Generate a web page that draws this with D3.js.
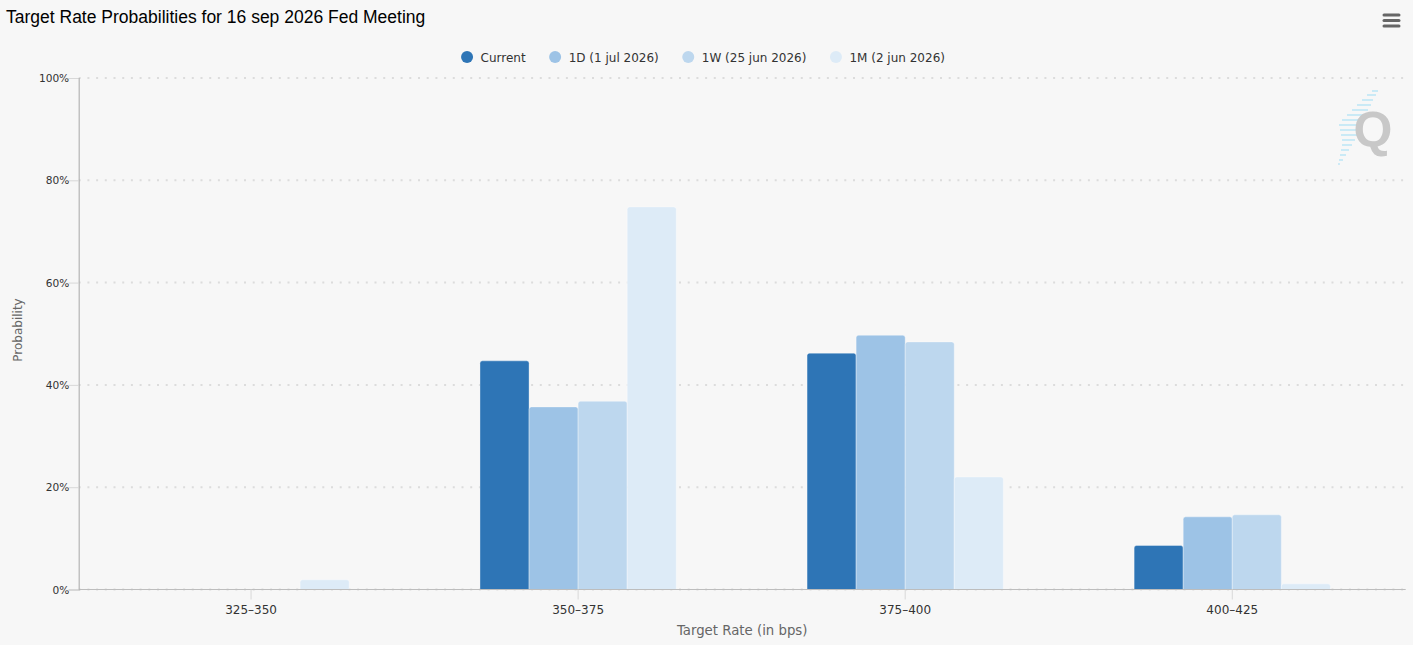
<!DOCTYPE html>
<html>
<head>
<meta charset="utf-8">
<script src="https://cdn.jsdelivr.net/npm/d3@7/dist/d3.min.js"></script>
<style>
  html, body { margin: 0; padding: 0; background: #f7f7f7; }
  svg { display: block; }
</style>
</head>
<body>
<svg id="chart" width="1413" height="645"></svg>
<script>
// ---- data ----
const categories = ["325\u2013350", "350\u2013375", "375\u2013400", "400\u2013425"];
const seriesNames = ["Current", "1D (1 jul 2026)", "1W (25 jun 2026)", "1M (2 jun 2026)"];
const seriesColors = ["#2e75b6", "#9dc3e6", "#bdd7ee", "#ddebf7"];
const currentValues = [0, 44.7, 46.2, 8.6];
const oneDayValues = [0, 35.7, 49.7, 14.2];
const oneWeekValues = [0, 36.8, 48.4, 14.6];
const oneMonthValues = [1.9, 74.8, 22.0, 1.1];
const yTicks = [0, 20, 40, 60, 80, 100];
const titleText = "Target Rate Probabilities for 16 sep 2026 Fed Meeting";
const xTitle = "Target Rate (in bps)";
const yTitle = "Probability";

const seriesValues = [currentValues, oneDayValues, oneWeekValues, oneMonthValues];

// ---- layout ----
const svg = d3.select("#chart");
const plot = { left: 78.7, right: 1405.7, top: 78, bottom: 589.5 };
const font = "'DejaVu Sans', Verdana, sans-serif";

const x0 = d3.scaleBand().domain(categories).range([87.5, 1395.8]).padding(0);
const x1 = d3.scaleBand().domain(seriesNames)
  .range([x0.bandwidth() * 0.2, x0.bandwidth() * 0.8]).padding(0);
const y = d3.scaleLinear().domain([0, 100]).range([plot.bottom, plot.top]);

// title
svg.append("text")
  .attr("x", 6).attr("y", 23)
  .attr("font-family", "'Liberation Sans', Arial, sans-serif")
  .attr("font-size", 17.5)
  .attr("fill", "#000")
  .text(titleText);

// hamburger menu
const menu = svg.append("g").attr("stroke", "#666").attr("stroke-width", 3).attr("stroke-linecap", "round");
[15, 20.6, 26].forEach(yy => {
  menu.append("line").attr("x1", 1384).attr("x2", 1399).attr("y1", yy).attr("y2", yy);
});

// gridlines
const grid = svg.append("g");
grid.selectAll("line").data(yTicks).join("line")
  .attr("x1", plot.left).attr("x2", plot.right)
  .attr("y1", d => y(d)).attr("y2", d => y(d))
  .attr("stroke", "#dcdcdc").attr("stroke-width", 2)
  .attr("stroke-dasharray", "2,6.7");

// watermark logo
const logo = svg.append("g");
const stripes = [
  [1372, 1378, 91], [1367, 1376, 95], [1362, 1373, 100], [1357, 1371, 105],
  [1352, 1368, 110], [1347, 1366, 115], [1342, 1363, 120], [1339, 1361, 125],
  [1340, 1359, 130], [1341, 1357, 135], [1342, 1355, 140], [1342, 1352, 145],
  [1341, 1349, 150], [1340, 1346, 155], [1339, 1343, 160], [1338, 1340, 164]
];
logo.selectAll("line").data(stripes).join("line")
  .attr("x1", d => d[0]).attr("x2", d => d[1])
  .attr("y1", d => d[2]).attr("y2", d => d[2])
  .attr("stroke", "#bfe6f6").attr("stroke-width", 1.6);
logo.append("text")
  .attr("x", 1373).attr("y", 147)
  .attr("text-anchor", "middle")
  .attr("font-family", "'Liberation Sans', Arial, sans-serif")
  .attr("font-weight", "bold")
  .attr("font-size", 50)
  .attr("fill", "#c8c8c8")
  .text("Q");

// bars
const radius = 2.5;
function barPath(xp, w, yTop, yBot) {
  const r = Math.min(radius, (yBot - yTop), w / 2);
  return `M${xp},${yBot}V${yTop + r}Q${xp},${yTop} ${xp + r},${yTop}H${xp + w - r}Q${xp + w},${yTop} ${xp + w},${yTop + r}V${yBot}Z`;
}
const barData = [];
seriesNames.forEach((s, si) => {
  categories.forEach((c, ci) => {
    barData.push({ series: s, cat: c, value: seriesValues[si][ci], color: seriesColors[si] });
  });
});
svg.append("g").selectAll("path").data(barData.filter(d => d.value > 0)).join("path")
  .attr("d", d => barPath(x0(d.cat) + x1(d.series), x1.bandwidth(), y(d.value), y(0)))
  .attr("fill", d => d.color)
  .attr("stroke", "#ffffff").attr("stroke-opacity", 0.35).attr("stroke-width", 1);

// x axis line
svg.append("line")
  .attr("x1", plot.left).attr("x2", plot.right)
  .attr("y1", plot.bottom).attr("y2", plot.bottom)
  .attr("stroke", "#bdbdbd").attr("stroke-width", 1.2);

// y axis
const yAxis = d3.axisLeft(y).tickValues(yTicks).tickFormat(d => d + "%").tickSize(10).tickPadding(0);
const yg = svg.append("g").attr("transform", `translate(${plot.left},0)`).call(yAxis);
yg.select(".domain").attr("stroke", "#b5b5b5").attr("stroke-width", 1.2);
yg.selectAll(".tick line").attr("stroke", "#d8d8d8");
yg.selectAll(".tick text")
  .attr("font-family", font).attr("font-size", 10.6).attr("fill", "#333")
  .attr("x", -9.5).attr("dy", "0.34em");

// x axis
const xAxis = d3.axisBottom(x0).tickSize(10).tickPadding(6);
const xg = svg.append("g").attr("transform", `translate(0,${plot.bottom})`).call(xAxis);
xg.select(".domain").remove();
xg.selectAll(".tick line").attr("stroke", "#d8d8d8");
xg.selectAll(".tick text")
  .attr("font-family", font).attr("font-size", 12).attr("fill", "#333");

// axis titles
svg.append("text")
  .attr("x", (plot.left + plot.right) / 2).attr("y", 634.5)
  .attr("text-anchor", "middle")
  .attr("font-family", font).attr("font-size", 13.3).attr("fill", "#666")
  .text(xTitle);
svg.append("text")
  .attr("transform", `translate(22,330) rotate(-90)`)
  .attr("text-anchor", "middle")
  .attr("font-family", font).attr("font-size", 12).attr("fill", "#666")
  .text(yTitle);

// legend
const legend = svg.append("g");
const items = legend.selectAll("g").data(seriesNames).join("g");
items.append("circle").attr("r", 6).attr("cy", 57).attr("fill", (d, i) => seriesColors[i]);
items.append("text")
  .attr("x", 13.5).attr("y", 61.5)
  .attr("font-family", font).attr("font-size", 12).attr("fill", "#333")
  .text(d => d);
const gap = 29.5;
let cx = 0;
const positions = [];
items.each(function () {
  const w = d3.select(this).select("text").node().getComputedTextLength();
  positions.push(cx);
  cx += 13.5 + w + gap;
});
const totalWidth = cx - gap + 6;
const startX = 703 - totalWidth / 2 + 6;
items.attr("transform", (d, i) => `translate(${startX + positions[i]},0)`);
</script>
</body>
</html>
